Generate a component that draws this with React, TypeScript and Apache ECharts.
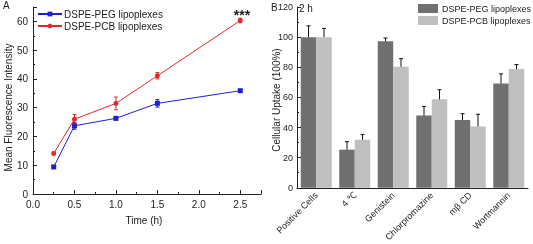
import React, { useEffect, useRef } from "react";
import * as echarts from "echarts";

const timeX = [0.25, 0.5, 1.0, 1.5, 2.5];
const pegLine = [9.4, 23.7, 26.3, 31.5, 35.9];
const pegLineErr = [0.4, 1.2, 0.5, 1.3, 0.4];
const pcbLine = [14.1, 26.0, 31.5, 41.1, 60.3];
const pcbLineErr = [0.5, 1.6, 2.2, 1.1, 0.8];

const categories = ["Positive Cells", "4 ℃", "Genistein", "Chlorpromazine", "mβ CD", "Wortmannin"];
const pegBar = [100, 25.3, 97.2, 47.9, 45, 69.2];
const pegBarErr = [7.5, 5.3, 2.2, 6.1, 4.2, 6.4];
const pcbBar = [100, 31.9, 80.3, 58.7, 40.7, 78.8];
const pcbBarErr = [5.8, 3.4, 5.4, 6.4, 8.1, 3.0];

const nameA1 = "DSPE-PEG lipoplexes";
const nameA2 = "DSPE-PCB lipoplexes";

const FONT = "'Liberation Sans', Arial, sans-serif";
const BLUE = "#1f1fd0";
const RED = "#e02a2a";
const DARK = "#707070";
const LIGHT = "#bfbfbf";
const BAR_W = 15.5;

function lineErr(color: string) {
  return (params: any, api: any) => {
    const x = api.value(0);
    const lo = api.coord([x, api.value(1)]);
    const hi = api.coord([x, api.value(2)]);
    const w = 2;
    const st = { stroke: color, lineWidth: 1 };
    return {
      type: "group",
      children: [
        { type: "line", shape: { x1: hi[0], y1: hi[1], x2: lo[0], y2: lo[1] }, style: st },
        { type: "line", shape: { x1: hi[0] - w, y1: hi[1], x2: hi[0] + w, y2: hi[1] }, style: st },
        { type: "line", shape: { x1: lo[0] - w, y1: lo[1], x2: lo[0] + w, y2: lo[1] }, style: st },
      ],
    };
  };
}

function barErr(offset: number) {
  return (params: any, api: any) => {
    const c = api.value(0);
    const base = api.coord([c, api.value(1)]);
    const top = api.coord([c, api.value(2)]);
    const x = base[0] + offset;
    const w = 2;
    const st = { stroke: "#111", lineWidth: 1 };
    return {
      type: "group",
      children: [
        { type: "line", shape: { x1: x, y1: base[1], x2: x, y2: top[1] }, style: st },
        { type: "line", shape: { x1: x - w, y1: top[1], x2: x + w, y2: top[1] }, style: st },
      ],
    };
  };
}

export default function App() {
  const ref = useRef<HTMLDivElement>(null);
  useEffect(() => {
    const chart = echarts.init(ref.current!, null, { renderer: "svg" });
    const axisLine = { show: true, lineStyle: { color: "#222", width: 1 } };
    const tick = { show: true, inside: true, length: 4, lineStyle: { color: "#222" } };
    const minor = { show: true, splitNumber: 2, length: 2, lineStyle: { color: "#222" } };
    const label = { color: "#222", fontSize: 10, fontFamily: FONT };
    const option: any = {
      animation: false,
      textStyle: { fontFamily: FONT },
      grid: [
        { left: 33, top: 7, width: 228, height: 187 },
        { left: 297, top: 7, width: 231, height: 186.5 },
      ],
      xAxis: [
        {
          type: "value", gridIndex: 0, min: 0, max: 2.75, interval: 0.5,
          axisLine, axisTick: tick, minorTick: minor, splitLine: { show: false },
          axisLabel: { ...label, margin: 5, showMaxLabel: false, formatter: (v: number) => v.toFixed(1) },
        },
        {
          type: "category", gridIndex: 1, data: categories,
          axisLine, axisTick: { show: false },
          axisLabel: { ...label, fontSize: 9, rotate: 45, margin: 6, interval: 0 },
        },
      ],
      yAxis: [
        {
          type: "value", gridIndex: 0, min: 0, max: 65, interval: 10,
          axisLine, axisTick: tick, minorTick: minor, splitLine: { show: false },
          axisLabel: { ...label, margin: 5, showMaxLabel: false },
        },
        {
          type: "value", gridIndex: 1, min: 0, max: 120, interval: 20,
          axisLine, axisTick: tick, minorTick: minor, splitLine: { show: false },
          axisLabel: { ...label, fontSize: 9, margin: 4 },
        },
      ],
      legend: [
        {
          data: [nameA1], left: 37, top: 9, itemWidth: 24, itemHeight: 6, itemGap: 0,
          textStyle: { fontSize: 10, color: "#222", fontFamily: FONT, padding: [0, 0, 0, -3] }, padding: 0,
        },
        {
          data: [nameA2], left: 37, top: 21, itemWidth: 24, itemHeight: 6, itemGap: 0,
          textStyle: { fontSize: 10, color: "#222", fontFamily: FONT, padding: [0, 0, 0, -3] }, padding: 0,
        },
        {
          data: ["PEG bars"], left: 418, top: 4, itemWidth: 20, itemHeight: 9, icon: "rect",
          formatter: () => nameA1,
          textStyle: { fontSize: 9, color: "#222", fontFamily: FONT, padding: [0, 0, 0, -1] }, padding: 0,
        },
        {
          data: ["PCB bars"], left: 418, top: 16, itemWidth: 20, itemHeight: 9, icon: "rect",
          formatter: () => nameA2,
          textStyle: { fontSize: 9, color: "#222", fontFamily: FONT, padding: [0, 0, 0, -1] }, padding: 0,
        },
      ],
      series: [
        {
          name: nameA1, type: "line", xAxisIndex: 0, yAxisIndex: 0,
          data: timeX.map((x, i) => [x, pegLine[i]]),
          symbol: "rect", symbolSize: 5, color: BLUE, lineStyle: { width: 1, color: BLUE },
        },
        {
          type: "custom", xAxisIndex: 0, yAxisIndex: 0,
          data: timeX.map((x, i) => [x, pegLine[i] - pegLineErr[i], pegLine[i] + pegLineErr[i]]),
          renderItem: lineErr(BLUE), z: 3,
        },
        {
          name: nameA2, type: "line", xAxisIndex: 0, yAxisIndex: 0,
          data: timeX.map((x, i) => [x, pcbLine[i]]),
          symbol: "circle", symbolSize: 5, color: RED, lineStyle: { width: 1, color: RED },
        },
        {
          type: "custom", xAxisIndex: 0, yAxisIndex: 0,
          data: timeX.map((x, i) => [x, pcbLine[i] - pcbLineErr[i], pcbLine[i] + pcbLineErr[i]]),
          renderItem: lineErr(RED), z: 3,
        },
        {
          name: "PEG bars", type: "bar", xAxisIndex: 1, yAxisIndex: 1, data: pegBar,
          barWidth: BAR_W, barGap: "0%", color: DARK, itemStyle: { color: DARK },
        },
        {
          name: "PCB bars", type: "bar", xAxisIndex: 1, yAxisIndex: 1, data: pcbBar,
          barWidth: BAR_W, barGap: "0%", color: LIGHT, itemStyle: { color: LIGHT },
        },
        {
          type: "custom", xAxisIndex: 1, yAxisIndex: 1,
          data: pegBar.map((v, i) => [i, v, v + pegBarErr[i]]),
          renderItem: barErr(-BAR_W / 2), z: 3,
        },
        {
          type: "custom", xAxisIndex: 1, yAxisIndex: 1,
          data: pcbBar.map((v, i) => [i, v, v + pcbBarErr[i]]),
          renderItem: barErr(BAR_W / 2), z: 3,
        },
      ],
      graphic: [
        { type: "text", left: 3, top: 0, style: { text: "A", fontSize: 10, fill: "#222", fontFamily: FONT } },
        { type: "text", left: 271, top: 2, style: { text: "B", fontSize: 10, fill: "#222", fontFamily: FONT } },
        { type: "text", left: 299, top: 3, style: { text: "2 h", fontSize: 10, fill: "#222", fontFamily: FONT } },
        {
          type: "text", x: 242, y: 15,
          style: { text: "***", fontSize: 14, fontWeight: "bold", fill: "#222", fontFamily: FONT, align: "center", verticalAlign: "middle" },
        },
        {
          type: "text", x: 8, y: 107.5, rotation: Math.PI / 2,
          style: { text: "Mean Fluorescence Intensity", fontSize: 10, fill: "#222", fontFamily: FONT, align: "center", verticalAlign: "middle" },
        },
        {
          type: "text", x: 276, y: 100, rotation: Math.PI / 2,
          style: { text: "Cellular Uptake (100%)", fontSize: 10, fill: "#222", fontFamily: FONT, align: "center", verticalAlign: "middle" },
        },
        {
          type: "text", x: 144, y: 220,
          style: { text: "Time (h)", fontSize: 10, fill: "#222", fontFamily: FONT, align: "center", verticalAlign: "middle" },
        },
      ],
    };
    chart.setOption(option);
    return () => chart.dispose();
  }, []);
  return <div ref={ref} style={{ position: "fixed", left: 0, top: 0, width: 533, height: 244 }} />;
}
